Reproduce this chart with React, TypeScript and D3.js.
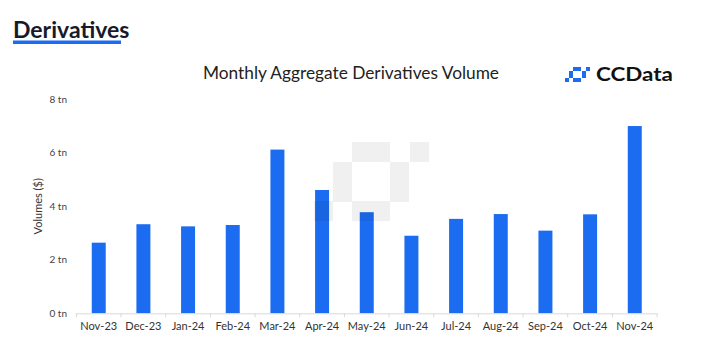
import React from "react";
import * as d3 from "d3";

const months = ["Nov-23","Dec-23","Jan-24","Feb-24","Mar-24","Apr-24","May-24","Jun-24","Jul-24","Aug-24","Sep-24","Oct-24","Nov-24"];
const volumes = [2.64, 3.33, 3.25, 3.30, 6.12, 4.61, 3.78, 2.90, 3.53, 3.71, 3.09, 3.70, 7.00];
const yTicks = [0, 2, 4, 6, 8];
const tickLabel = (v: number) => `${v} tn`;
// decorative logo pixel runs [col,row,widthCells,heightCells]
const logoRuns = [[2,0,2,1],[5,0,1,1],[1,1,1,2],[4,1,1,2],[0,3,1,1],[2,3,2,1]];

const W = 703, H = 354;
const FONT = "Lato, 'Open Sans', sans-serif";

function runsPath(x0: number, y0: number, ux: number, uy: number) {
  const p = d3.path();
  logoRuns.forEach(([c, r, w, h]) => {
    p.rect(Math.round(x0 + c * ux), Math.round(y0 + r * uy), Math.round(w * ux), Math.round(h * uy));
  });
  return p.toString();
}

export default function App() {
  const left = 76.4, right = 657.1, top = 99.3, bottom = 313.3;
  const x = d3.scaleBand<string>().domain(months).range([left, right]).paddingInner(0.687).paddingOuter(0.3435);
  const y = d3.scaleLinear().domain([0, 8]).range([bottom, top]);
  const step = x.step();
  const bw = x.bandwidth();
  const gap = (step - bw) / 2;
  const boundaries = months.map((m) => (x(m) as number) - gap).concat([(x(months[months.length - 1]) as number) + bw + gap]);

  return (
    <svg width={W} height={H} style={{ position: "absolute", left: 0, top: 0, background: "#fff" }} fontFamily={FONT}>
      <rect width={W} height={H} fill="#fff" />
      {/* header */}
      <text x={13} y={38} fontSize={23} fontWeight={700} fill="#151b2c">Derivatives</text>
      <rect x={13} y={40.5} width={108} height={3.5} fill="#1b6cf0" />
      {/* title */}
      <text x={351} y={79} fontSize={17} textAnchor="middle" fill="#222" textLength={296} lengthAdjust="spacingAndGlyphs">Monthly Aggregate Derivatives Volume</text>
      {/* logo */}
      <path d={runsPath(565, 67, 4.2, 3.6)} fill="#1b6cf0" />
      <text x={596} y={81} fontSize={18} fontWeight={700} fill="#111" textLength={77} lengthAdjust="spacingAndGlyphs">CCData</text>
      {/* y label */}
      <text transform={`translate(42,${(top + bottom) / 2}) rotate(-90)`} textAnchor="middle" fontSize={11} fill="#333">Volumes ($)</text>
      {/* y tick labels */}
      {yTicks.map((t) => (
        <text key={t} x={67} y={y(t)} dy="0.35em" textAnchor="end" fontSize={10} fill="#444">{tickLabel(t)}</text>
      ))}
      {/* bars */}
      {months.map((m, i) => (
        <rect key={m} x={x(m)} y={y(volumes[i])} width={bw} height={bottom - y(volumes[i])} fill="#1b6cf0" />
      ))}
      {/* axis */}
      <line x1={left} x2={right} y1={bottom + 0.5} y2={bottom + 0.5} stroke="#d9d9d9" />
      {boundaries.map((b, i) => (
        <line key={i} x1={b} x2={b} y1={bottom} y2={bottom + 4} stroke="#d9d9d9" />
      ))}
      {months.map((m) => (
        <text key={m} x={(x(m) as number) + bw / 2} y={330} textAnchor="middle" fontSize={11} fill="#333">{m}</text>
      ))}
      {/* watermark */}
      <path d={runsPath(313.5, 142, 19.2, 19.8)} fill="rgba(0,0,0,0.06)" />
    </svg>
  );
}
